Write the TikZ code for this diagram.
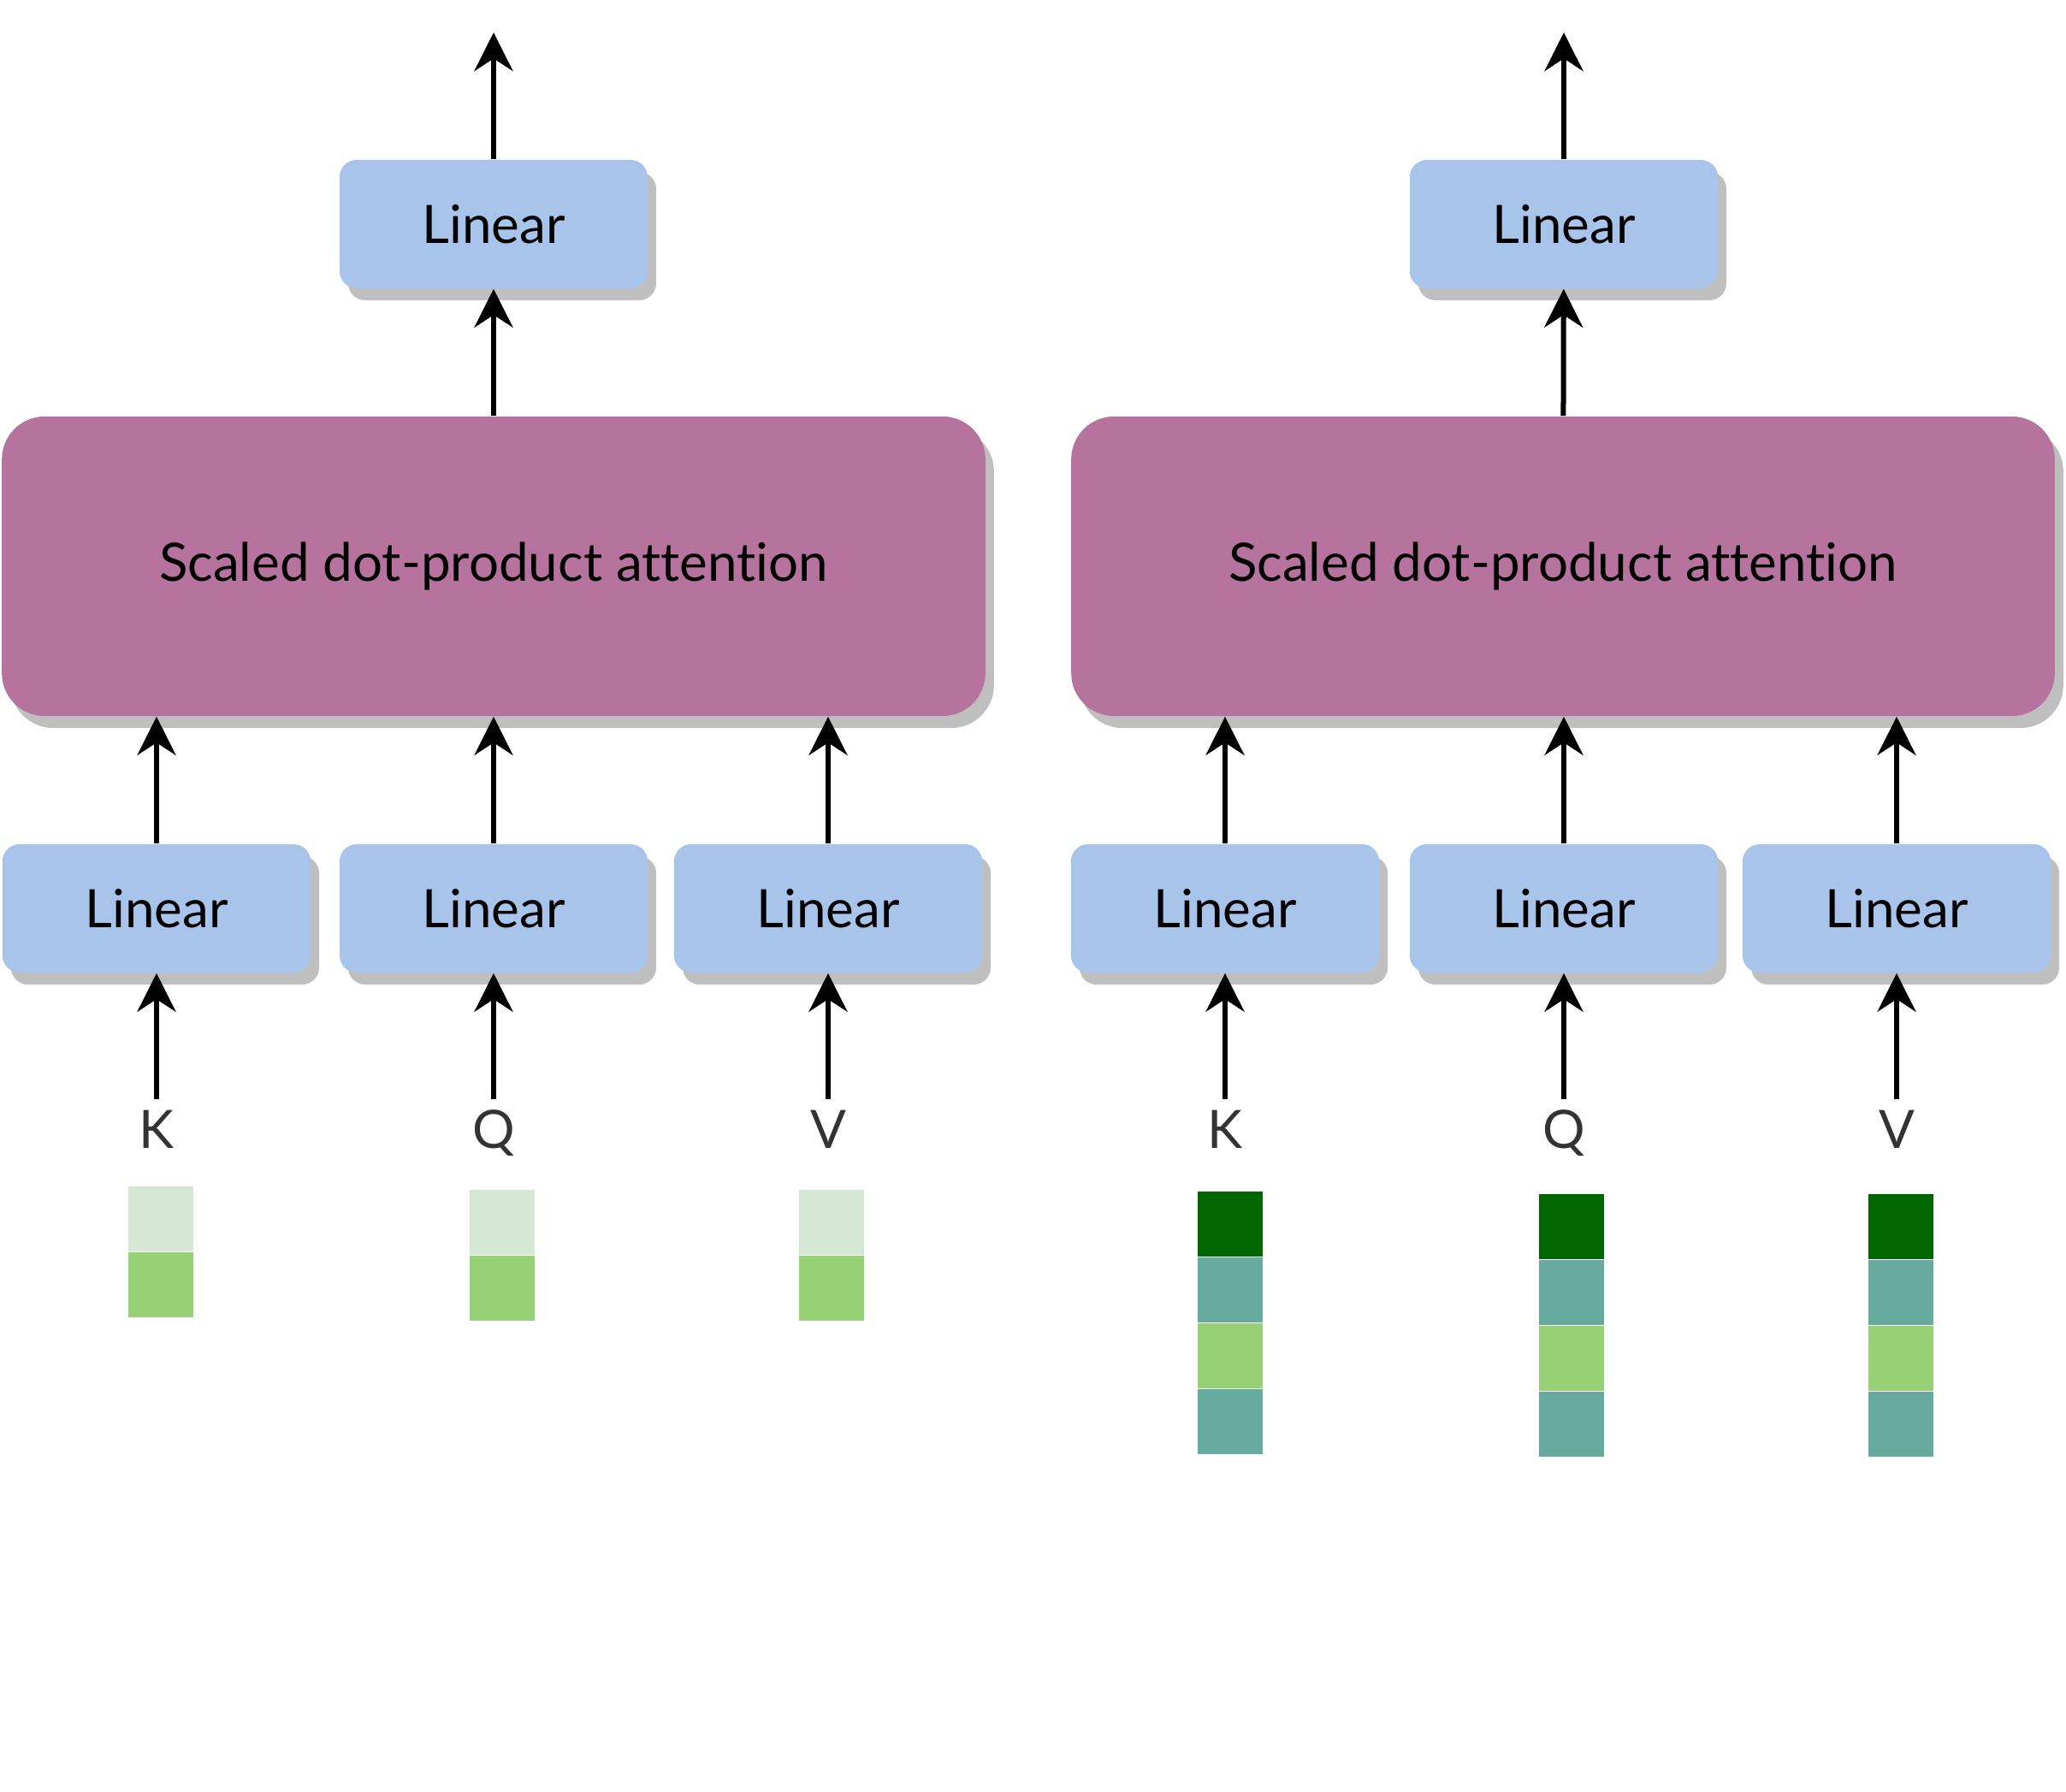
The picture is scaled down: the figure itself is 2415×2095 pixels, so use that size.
\documentclass[tikz,border=0pt]{standalone}
\usepackage{fontspec}
\setmainfont{Lato}[Ligatures=NoCommon]
\usetikzlibrary{positioning, arrows.meta, shadows}
\definecolor{linblue}{HTML}{A9C4EB}
\definecolor{attpurple}{HTML}{B5739D}
\definecolor{shadowgray}{HTML}{BFBFBF}
\definecolor{labelgray}{HTML}{333333}
\definecolor{cpale}{HTML}{D5E8D4}
\definecolor{cgreen}{HTML}{97D077}
\definecolor{cdark}{HTML}{006600}
\definecolor{cteal}{HTML}{67AB9F}
\tikzset{
  boxshadow/.style={general shadow={fill=shadowgray, shadow xshift=0.1cm, shadow yshift=-0.14cm}},
  lin/.style={fill=linblue, rounded corners=0.2cm, minimum width=3.6cm, minimum height=1.5cm, boxshadow},
  att/.style={fill=attpurple, rounded corners=0.5cm, minimum width=11.49cm, minimum height=3.5cm, boxshadow},
  lbl/.style={text=labelgray, text height=0.43cm, text depth=0pt, inner xsep=0pt, inner ysep=0.14cm},
  cell/.style={draw=white, line width=0.4pt, minimum size=0.77cm, inner sep=0pt},
  flow/.style={-{Stealth[length=0.45cm, width=0.45cm]}, line width=0.06cm}
}

\begin{document}
\begin{tikzpicture} [x=0.01cm, y=-0.01cm, node distance=0.77cm, on grid, font=\fontsize{17.6}{21}\selectfont]
\useasboundingbox (0,0) rectangle (2415,2095);

% left block
\node (tlin) [lin] at (577,262) {Linear};
\coordinate (tout) at (577,38);
\node (att) [att] at (577,662) {Scaled dot-product attention};
\node (lk) [lin] at (183,1062) {Linear};
\node (lq) [lin] at (577,1062) {Linear};
\node (lv) [lin] at (968,1062) {Linear};
\node (kl) [lbl] at (183,1321) {K};
\node (ql) [lbl] at (577,1321) {Q};
\node (vl) [lbl] at (968,1321) {V};

\node (kc1) [cell, fill=cpale] at (188,1425) {};
\node (kc2) [cell, fill=cgreen, below = of kc1] {};
\node (qc1) [cell, fill=cpale] at (587,1429) {};
\node (qc2) [cell, fill=cgreen, below = of qc1] {};
\node (vc1) [cell, fill=cpale] at (972,1429) {};
\node (vc2) [cell, fill=cgreen, below = of vc1] {};

\draw [flow] (kl) -- (lk);
\draw [flow] (ql) -- (lq);
\draw [flow] (vl) -- (lv);
\draw [flow] (lk) -- (lk |- att.south);
\draw [flow] (lq) -- (lq |- att.south);
\draw [flow] (lv) -- (lv |- att.south);
\draw [flow] (att) -- (tlin);
\draw [flow] (tlin) -- (tout);

% right block
\node (rtlin) [lin] at (1828,262) {Linear};
\coordinate (rtout) at (1828,38);
\node (ratt) [att] at (1827,662) {Scaled dot-product attention};
\node (rlk) [lin] at (1432,1062) {Linear};
\node (rlq) [lin] at (1828,1062) {Linear};
\node (rlv) [lin] at (2217,1062) {Linear};
\node (rkl) [lbl] at (1432,1321) {K};
\node (rql) [lbl] at (1828,1321) {Q};
\node (rvl) [lbl] at (2217,1321) {V};

\node (rkc1) [cell, fill=cdark] at (1438,1431) {};
\node (rkc2) [cell, fill=cteal, below = of rkc1] {};
\node (rkc3) [cell, fill=cgreen, below = of rkc2] {};
\node (rkc4) [cell, fill=cteal, below = of rkc3] {};
\node (rqc1) [cell, fill=cdark] at (1837,1434) {};
\node (rqc2) [cell, fill=cteal, below = of rqc1] {};
\node (rqc3) [cell, fill=cgreen, below = of rqc2] {};
\node (rqc4) [cell, fill=cteal, below = of rqc3] {};
\node (rvc1) [cell, fill=cdark] at (2222,1434) {};
\node (rvc2) [cell, fill=cteal, below = of rvc1] {};
\node (rvc3) [cell, fill=cgreen, below = of rvc2] {};
\node (rvc4) [cell, fill=cteal, below = of rvc3] {};

\draw [flow] (rkl) -- (rlk);
\draw [flow] (rql) -- (rlq);
\draw [flow] (rvl) -- (rlv);
\draw [flow] (rlk) -- (rlk |- ratt.south);
\draw [flow] (rlq) -- (rlq |- ratt.south);
\draw [flow] (rlv) -- (rlv |- ratt.south);
\draw [flow] (ratt) -- (rtlin);
\draw [flow] (rtlin) -- (rtout);
\end{tikzpicture}
\end{document}
